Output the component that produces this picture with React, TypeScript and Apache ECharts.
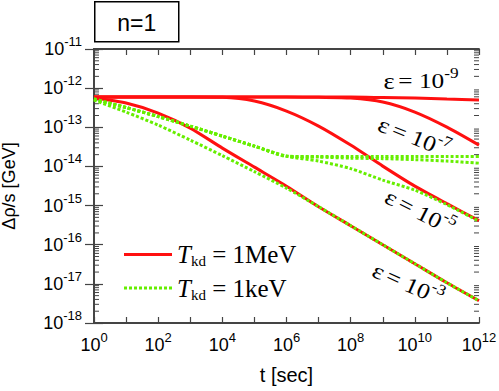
import React, { useEffect, useRef } from 'react';
import * as echarts from 'echarts';

// log10(t [sec])
const tExp = [0, 1, 2, 3, 4, 5, 6, 7, 8, 9, 10, 11, 12];

// log10(Δρ/s [GeV]) for T_kd = 1 MeV (solid red)
const mevEps9 = [-12.228, -12.228, -12.228, -12.228, -12.228, -12.228, -12.228, -12.228, -12.228, -12.240, -12.253, -12.279, -12.304];
const mevEps7 = [-12.228, -12.228, -12.228, -12.228, -12.228, -12.228, -12.228, -12.235, -12.253, -12.355, -12.611, -12.995, -13.455];
const mevEps5 = [-12.228, -12.228, -12.228, -12.228, -12.235, -12.330, -12.586, -12.969, -13.455, -13.992, -14.504, -14.951, -15.386];
const mevEps3 = [-12.253, -12.381, -12.637, -13.020, -13.532, -14.018, -14.504, -15.028, -15.514, -16.000, -16.486, -16.972, -17.432];

// log10(Δρ/s [GeV]) for T_kd = 1 keV (dotted green)
const kevEps9 = [-12.279, -12.496, -12.726, -12.969, -13.225, -13.481, -13.737, -13.749, -13.749, -13.749, -13.749, -13.749, -13.749];
const kevEps7 = [-12.279, -12.496, -12.726, -12.969, -13.225, -13.481, -13.737, -13.762, -13.788, -13.801, -13.826, -13.864, -13.916];
const kevEps5 = [-12.279, -12.496, -12.726, -12.969, -13.225, -13.481, -13.737, -13.864, -14.056, -14.350, -14.606, -14.977, -15.399];
const kevEps3 = [-12.304, -12.611, -12.944, -13.327, -13.724, -14.133, -14.555, -15.028, -15.514, -16.000, -16.486, -16.972, -17.432];

// axis ranges (exponents)
const xMinExp = 0;
const xMaxExp = 12;
const yMinExp = -18;
const yMaxExp = -11;

const epsLabels = ['-9', '-7', '-5', '-3'];
const legendNames = ['MeV', 'keV'];

const RED = '#ff1010';
const GREEN = '#66ee00';
const FRAME = '#444444';

const SANS = '"Liberation Sans", Arial, Helvetica, sans-serif';
const SERIF = '"Liberation Serif", "Times New Roman", serif';

function dottedIconPath(): string {
  let d = 'path://';
  for (let i = 0; i < 10; i++) {
    const x = i * 5;
    d += `M${x} 0h3v3h-3z `;
  }
  return d.trim();
}

export default function App() {
  const ref = useRef<HTMLDivElement>(null);

  useEffect(() => {
    const chart = echarts.init(ref.current!, null, { renderer: 'svg' });

    const tickRich = {
      b: { fontSize: 18, fontFamily: SANS, color: '#000', lineHeight: 28 },
      s: { fontSize: 13, fontFamily: SANS, color: '#000', lineHeight: 12, verticalAlign: 'top' },
    };

    const epsRich = {
      e: { fontSize: 23, fontFamily: SERIF, color: '#000', lineHeight: 32 },
      n: { fontSize: 22, fontFamily: SERIF, color: '#000', lineHeight: 32 },
      s: { fontSize: 15, fontFamily: SERIF, color: '#000', lineHeight: 14, verticalAlign: 'top' },
    };

    const minorLogs: number[] = [];
    for (let n = yMinExp; n < yMaxExp; n++) {
      for (let k = 2; k <= 9; k++) minorLogs.push(n + Math.log10(k));
    }

    const mk = (name: string, color: string, dash: any, vals: number[], z: number) => ({
      type: 'line',
      name,
      data: tExp.map((t, i) => [t, vals[i]]),
      symbol: 'none',
      smooth: 0.25,
      lineStyle: { color, width: 3, type: dash },
      itemStyle: { color },
      z,
      silent: true,
    });

    const epsText = (exp: string, x: number, y: number, deg: number) => ({
      type: 'text',
      x,
      y,
      rotation: (deg * Math.PI) / 180,
      scaleX: 1.15,
      style: {
        text: `{e|ε} {n|= 10}{s|${exp}}`,
        rich: epsRich,
        align: 'center',
        verticalAlign: 'middle',
      },
      z: 10,
    });

    chart.setOption({
      animation: false,
      grid: { left: 94, right: 20, top: 49, bottom: 68, containLabel: false, outerBoundsMode: 'none' },
      xAxis: [
        {
          type: 'value',
          min: xMinExp,
          max: xMaxExp,
          interval: 1,
          position: 'bottom',
          name: 't [sec]',
          nameLocation: 'middle',
          nameGap: 42,
          nameTextStyle: { fontSize: 20, fontFamily: SANS, color: '#000' },
          axisLine: { show: true, lineStyle: { color: FRAME, width: 1.8 } },
          axisTick: { show: true, inside: true, length: 6, lineStyle: { color: FRAME, width: 1.2 } },
          axisLabel: {
            margin: 8,
            formatter: (v: number) => (v % 2 === 0 ? `{b|10}{s|${v}}` : ''),
            rich: tickRich,
          },
          splitLine: { show: false },
        },
        {
          type: 'value',
          min: xMinExp,
          max: xMaxExp,
          interval: 1,
          position: 'top',
          axisLine: { show: true, lineStyle: { color: FRAME, width: 1.8 } },
          axisTick: { show: true, inside: true, length: 6, lineStyle: { color: FRAME, width: 1.2 } },
          axisLabel: { show: false },
          splitLine: { show: false },
        },
      ],
      yAxis: [
        {
          type: 'value',
          min: yMinExp,
          max: yMaxExp,
          interval: 1,
          position: 'left',
          name: 'Δρ/s [GeV]',
          nameLocation: 'middle',
          nameRotate: 90,
          nameGap: 76,
          nameTextStyle: { fontSize: 18, fontFamily: SANS, color: '#000' },
          axisLine: { show: true, lineStyle: { color: FRAME, width: 1.8 } },
          axisTick: { show: true, inside: true, length: 9, lineStyle: { color: FRAME, width: 1.2 } },
          axisLabel: {
            margin: 12,
            formatter: (v: number) => `{b|10}{s|${v}}`,
            rich: tickRich,
          },
          splitLine: { show: false },
        },
        {
          type: 'value',
          min: yMinExp,
          max: yMaxExp,
          interval: 1,
          position: 'right',
          axisLine: { show: true, lineStyle: { color: FRAME, width: 1.8 } },
          axisTick: { show: true, inside: true, length: 9, lineStyle: { color: FRAME, width: 1.2 } },
          axisLabel: { show: false },
          splitLine: { show: false },
        },
      ],
      legend: {
        data: [
          { name: legendNames[0], icon: 'path://M0 0h48v3H0z' },
          { name: legendNames[1], icon: dottedIconPath() },
        ],
        orient: 'vertical',
        left: 119,
        top: 237,
        itemWidth: 48,
        itemHeight: 3,
        itemGap: 7,
        selectedMode: false,
        formatter: (name: string) => `{t|T}{k|kd}{r| = 1${name}}`,
        textStyle: {
          rich: {
            t: { fontSize: 25, fontFamily: SERIF, fontStyle: 'italic', color: '#000', lineHeight: 28, verticalAlign: 'middle' },
            k: { fontSize: 15, fontFamily: SERIF, color: '#000', lineHeight: 12, verticalAlign: 'bottom' },
            r: { fontSize: 25, fontFamily: SERIF, color: '#000', lineHeight: 28, verticalAlign: 'middle' },
          },
        },
      },
      graphic: [
        {
          type: 'group',
          left: 94,
          top: 1,
          children: [
            { type: 'rect', shape: { x: 0, y: 0, width: 84, height: 40 }, style: { fill: '#fff', stroke: '#000', lineWidth: 1.5 } },
            {
              type: 'text',
              x: 42,
              y: 21,
              style: { text: 'n=1', fontSize: 23, fontFamily: SANS, fill: '#000', align: 'center', verticalAlign: 'middle' },
            },
          ],
        },
        epsText(epsLabels[0], 421, 81, 0),
        epsText(epsLabels[1], 414, 137, -22),
        epsText(epsLabels[2], 420, 212, -27),
        epsText(epsLabels[3], 408, 284, -24),
      ],
      series: [
        {
          type: 'custom',
          name: 'minor',
          silent: true,
          clip: false,
          data: minorLogs.map((v) => [xMinExp, v]),
          renderItem: (params: any, api: any) => {
            const p = api.coord([xMinExp, api.value(1)]);
            const cs = params.coordSys;
            const l = cs.x;
            const r = cs.x + cs.width;
            return {
              type: 'group',
              children: [
                { type: 'line', shape: { x1: l, y1: p[1], x2: l + 5, y2: p[1] }, style: { stroke: FRAME, lineWidth: 1 } },
                { type: 'line', shape: { x1: r - 5, y1: p[1], x2: r, y2: p[1] }, style: { stroke: FRAME, lineWidth: 1 } },
              ],
            };
          },
          z: 1,
        },
        mk('MeV', RED, 'solid', mevEps9, 2),
        mk('MeV', RED, 'solid', mevEps7, 2),
        mk('MeV', RED, 'solid', mevEps5, 2),
        mk('MeV', RED, 'solid', mevEps3, 2),
        mk('keV', GREEN, [3, 2], kevEps9, 3),
        mk('keV', GREEN, [3, 2], kevEps7, 3),
        mk('keV', GREEN, [3, 2], kevEps5, 3),
        mk('keV', GREEN, [3, 2], kevEps3, 3),
      ],
    });

    return () => chart.dispose();
  }, []);

  return <div ref={ref} style={{ position: 'absolute', left: 0, top: 0, width: 499, height: 391 }} />;
}
